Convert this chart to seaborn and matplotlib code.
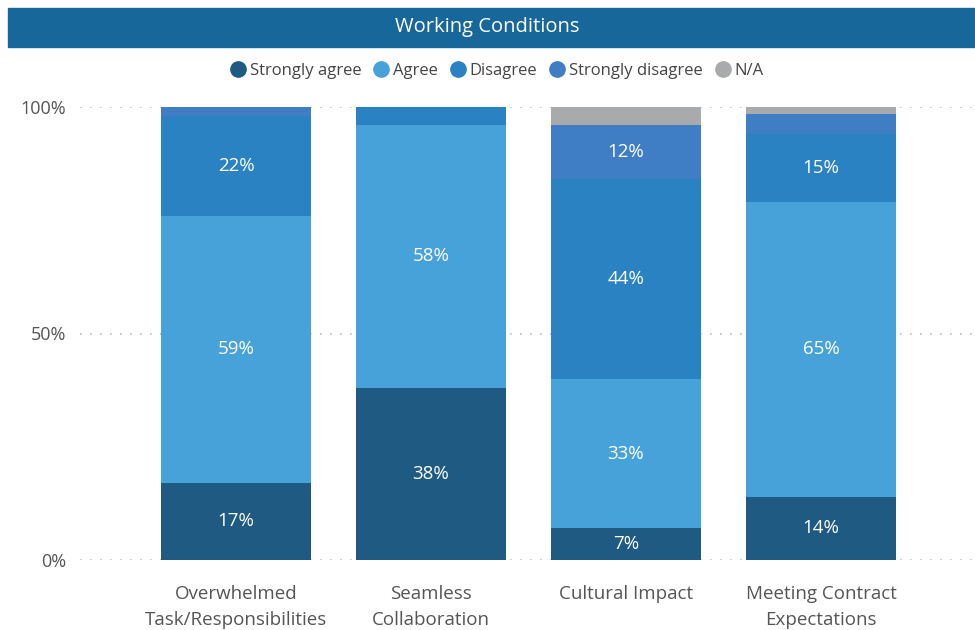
import numpy as np
import seaborn as sns
import matplotlib.pyplot as plt
from matplotlib.patches import Rectangle
from matplotlib.lines import Line2D

# data (percent of respondents)
categories = ["Overwhelmed\nTask/Responsibilities", "Seamless\nCollaboration",
              "Cultural Impact", "Meeting Contract\nExpectations"]
responses = ["Strongly agree", "Agree", "Disagree", "Strongly disagree", "N/A"]
strongly_agree = [17, 38, 7, 14]
agree = [59, 58, 33, 65]
disagree = [22, 4, 44, 15]
strongly_disagree = [2, 0, 12, 4.5]
not_applicable = [0, 0, 4, 1.5]

colors = ["#1f5a82", "#48a2da", "#2a82c2", "#3f7ec4", "#a8aaac"]

sns.set_theme(style="white")
plt.rcParams['font.family'] = ['Open Sans', 'DejaVu Sans']

fig = plt.figure(figsize=(9.75, 6.3), dpi=100)
ax = fig.add_axes([80 / 975, 1 - 560 / 630, 1 - 80 / 975, (560 - 107) / 630])

# title band
fig.patches.append(Rectangle((8 / 975, 1 - 47 / 630), 1 - 8 / 975, 39 / 630,
                             transform=fig.transFigure, color="#17679a", zorder=0))
fig.text(0.5, 1 - 27 / 630, "Working Conditions", ha="center", va="center",
         color="white", fontsize=14.5)

series = [strongly_agree, agree, disagree, strongly_disagree, not_applicable]
bottom = np.zeros(len(categories))
for name, vals, col in zip(responses, series, colors):
    vals = np.array(vals, dtype=float)
    sns.barplot(x=categories, y=vals, bottom=bottom, color=col, width=0.765,
                saturation=1, errorbar=None, ax=ax, linewidth=0)
    cont = ax.containers[-1]
    labels = [f"{v:.0f}%" if v >= 5 else "" for v in vals]
    ax.bar_label(cont, labels=labels, label_type="center", color="white", fontsize=13.5)
    bottom += vals

ax.set_xlim(-0.8, 3.79)
ax.set_ylim(0, 100)
ax.set_yticks([0, 50, 100])
ax.set_yticklabels(["0%", "50%", "100%"])
ax.yaxis.grid(True, color="#bdbdbd", linestyle=(0, (1, 5)), linewidth=1.2)
ax.set_axisbelow(True)
for sp in ax.spines.values():
    sp.set_visible(False)
ax.tick_params(axis="x", length=0, pad=18, labelsize=13.5, labelcolor="#555555")
ax.tick_params(axis="y", length=0, pad=10, labelsize=13, labelcolor="#555555")
for t in ax.get_xticklabels():
    t.set_linespacing(1.6)
ax.set_xlabel("")
ax.set_ylabel("")

# legend with round markers
handles = [Line2D([], [], marker="o", ls="", markersize=11, color=c) for c in colors]
fig.legend(handles, responses, loc="center", bbox_to_anchor=(0.505, 1 - 71 / 630),
           ncol=5, frameon=False, handletextpad=-0.3, columnspacing=0.2,
           fontsize=12, labelcolor="#444444")

fig.savefig("out.png", dpi=100)
